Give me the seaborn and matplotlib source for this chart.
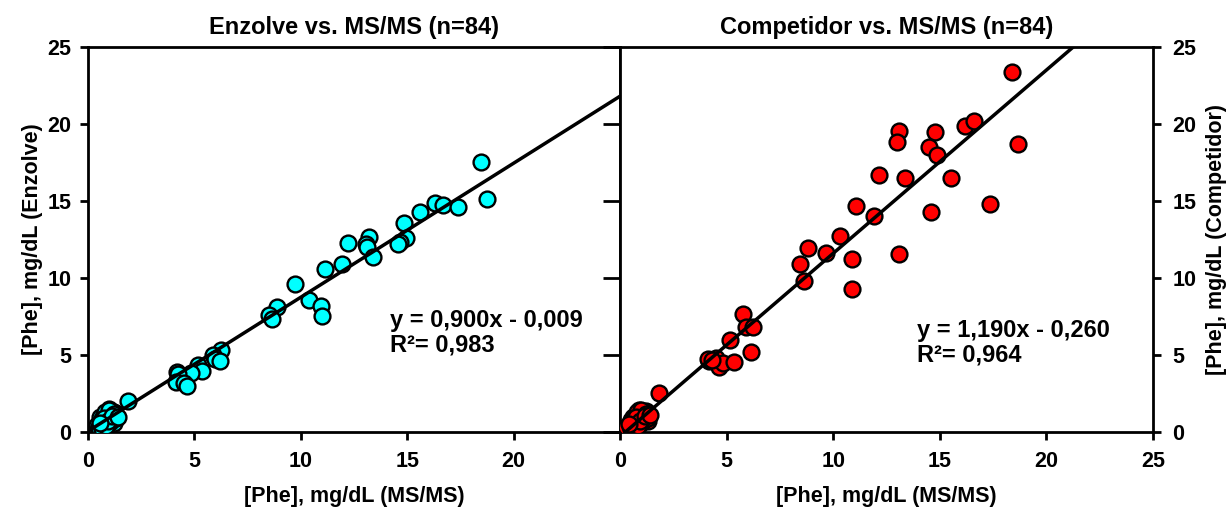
import numpy as np
import pandas as pd
import matplotlib
matplotlib.use("Agg")
import matplotlib.pyplot as plt
import seaborn as sns

# MS/MS reference vs Enzolve
enz_x = [18.48, 18.76, 16.29, 16.68, 17.4, 15.59, 14.85, 14.96, 14.65, 14.58,
         13.2, 13.05, 13.11, 13.4, 12.24, 11.95, 11.14, 9.72, 10.37, 10.97,
         11.0, 8.87, 8.5, 8.67, 6.24, 5.87, 5.96, 6.2, 5.18, 5.38,
         4.84, 4.18, 4.23, 4.13, 4.51, 4.66, 1.89,
         0.97, 1.2, 0.66, 1.2, 0.58, 0.81, 0.42, 0.5, 0.6, 0.7,
         0.8, 0.9, 1.0, 1.1, 1.3, 0.55, 0.65, 0.75, 0.85, 0.95,
         1.05, 1.15, 1.25, 0.6, 0.7, 0.8, 0.9, 1.0, 1.1, 1.2,
         0.5, 0.7, 0.9, 1.1, 1.3, 0.6, 0.8, 1.0, 1.2, 0.65,
         0.85, 1.05, 0.75, 0.95, 1.15, 0.55, 1.4]
enz_y = [17.55, 15.1, 14.9, 14.74, 14.59, 14.3, 13.55, 12.58, 12.36, 12.19,
         12.64, 12.2, 12.03, 11.36, 12.3, 10.93, 10.56, 9.63, 8.55, 8.2,
         7.55, 8.12, 7.6, 7.36, 5.35, 5.02, 4.76, 4.63, 4.35, 3.98,
         3.85, 3.9, 3.79, 3.25, 3.2, 2.99, 2.01,
         1.47, 1.32, 0.78, 0.56, 1.0, 1.1, 0.45, 0.3, 0.5, 0.6,
         0.7, 0.8, 0.95, 1.05, 1.1, 0.4, 0.85, 0.55, 0.65, 1.2,
         0.75, 0.9, 1.25, 0.35, 0.95, 1.0, 0.5, 0.6, 0.8, 1.0,
         0.25, 0.45, 1.15, 0.7, 0.9, 0.65, 1.3, 1.4, 1.2, 0.2,
         0.4, 0.85, 0.9, 0.7, 1.05, 0.6, 1.0]

# MS/MS reference vs competitor
comp_x = [18.39, 18.69, 16.17, 16.59, 13.08, 12.99, 14.77, 14.49, 14.87, 12.17,
          13.37, 15.52, 17.34, 14.6, 11.08, 11.89, 10.33, 9.67, 10.89, 13.1,
          10.88, 8.62, 8.45, 8.83, 5.77, 5.9, 6.24, 5.15, 6.15, 4.18,
          4.51, 4.12, 4.62, 4.85, 5.35, 4.3, 1.85,
          0.9, 1.2, 0.5, 1.3, 0.6, 0.8, 0.3, 0.5, 0.6, 0.7,
          0.8, 0.9, 1.0, 1.1, 1.3, 0.55, 0.65, 0.75, 0.85, 0.95,
          1.05, 1.15, 1.25, 0.6, 0.7, 0.8, 0.9, 1.0, 1.1, 1.2,
          0.5, 0.7, 0.9, 1.1, 1.3, 0.6, 0.8, 1.0, 1.2, 0.65,
          0.85, 1.05, 0.75, 0.95, 1.15, 0.4, 1.4]
comp_y = [23.38, 18.7, 19.87, 20.19, 19.57, 18.85, 19.46, 18.49, 17.99, 16.71,
          16.47, 16.49, 14.8, 14.26, 14.7, 14.05, 12.75, 11.65, 11.21, 11.58,
          9.26, 9.78, 10.89, 11.97, 7.64, 6.8, 6.84, 5.95, 5.19, 4.6,
          4.83, 4.72, 4.24, 4.5, 4.52, 4.65, 2.51,
          1.4, 1.35, 0.8, 0.7, 1.0, 1.2, 0.3, 0.2, 0.5, 0.6,
          0.7, 0.9, 1.0, 1.1, 1.0, 0.4, 0.85, 0.55, 0.65, 1.2,
          0.75, 0.9, 1.3, 0.35, 0.95, 1.1, 0.5, 0.6, 0.8, 1.05,
          0.25, 0.45, 1.25, 0.7, 0.9, 0.65, 1.3, 1.45, 1.15, 0.3,
          0.4, 0.85, 1.0, 0.7, 1.05, 0.5, 1.1]

# trend lines as drawn in the picture (slope, intercept)
enz_line = (0.87, 0.05)
comp_line = (1.19, -0.30)
enz_eq = ["y = 0,900x - 0,009", "R\u00b2= 0,983"]
comp_eq = ["y = 1,190x - 0,260", "R\u00b2= 0,964"]

sns.set_style("ticks")
plt.rcParams["font.family"] = ["Liberation Sans", "DejaVu Sans"]
plt.rcParams["font.weight"] = "bold"
plt.rcParams["text.color"] = "black"
plt.rcParams["axes.labelcolor"] = "black"
plt.rcParams["xtick.color"] = "black"
plt.rcParams["ytick.color"] = "black"
plt.rcParams["axes.edgecolor"] = "black"

fig = plt.figure(figsize=(12.27, 5.08), dpi=100)
ax1 = fig.add_axes([0.0717, 0.1496, 0.4336, 0.758])
ax2 = fig.add_axes([0.5053, 0.1496, 0.4344, 0.758])

df1 = pd.DataFrame({"x": enz_x, "y": enz_y})
df2 = pd.DataFrame({"x": comp_x, "y": comp_y})

panels = [
    (ax1, df1, "#00FFFF", enz_line, enz_eq, "Enzolve vs. MS/MS (n=84)",
     "[Phe], mg/dL (Enzolve)", (14.2, 6.8)),
    (ax2, df2, "#FF0000", comp_line, comp_eq, "Competidor vs. MS/MS (n=84)",
     "[Phe], mg/dL (Competidor)", (13.95, 6.2)),
]

for ax, df, col, fit, eq, title, ylab, txt in panels:
    sns.scatterplot(data=df, x="x", y="y", ax=ax, color=col, s=130,
                    edgecolor="black", linewidth=1.7, zorder=3)
    xs = np.array([0, 25])
    ax.plot(xs, fit[0] * xs + fit[1], color="black", lw=2.5, zorder=4)
    ax.set_xlim(0, 25)
    ax.set_ylim(0, 25)
    ax.set_title(title, fontsize=17, fontweight="bold", pad=9)
    ax.set_xlabel("[Phe], mg/dL (MS/MS)", fontsize=15.5, fontweight="bold", labelpad=9.5)
    ax.set_ylabel(ylab, fontsize=15.5, fontweight="bold")
    ax.text(txt[0], txt[1], eq[0], fontsize=17, fontweight="bold")
    ax.text(txt[0], txt[1] - 1.6, eq[1], fontsize=17, fontweight="bold")
    for s in ax.spines.values():
        s.set_visible(True)
        s.set_linewidth(2)
    ax.tick_params(width=2, length=6, labelsize=15.5, pad=8)

ax1.set_xticks([0, 5, 10, 15, 20])
ax1.set_yticks([0, 5, 10, 15, 20, 25])
ax1.tick_params(axis="y", left=True, right=False, pad=6)
ax1.yaxis.labelpad = 3

ax2.set_xticks([0, 5, 10, 15, 20, 25])
ax2.set_yticks([0, 5, 10, 15, 20, 25])
ax2.yaxis.tick_right()
ax2.tick_params(axis="y", right=True, left=True, labelleft=False, labelright=True)
ax2.yaxis.set_label_position("right")
ax2.set_ylabel("[Phe], mg/dL (Competidor)", fontsize=15.5, fontweight="bold",
               rotation=90, labelpad=7)
for t in ax2.yaxis.get_major_ticks():
    t.tick1line.set_marker(matplotlib.lines.TICKLEFT)
    t.tick1line.set_markersize(12)

for t in ax1.get_xticklabels() + ax1.get_yticklabels() + ax2.get_xticklabels() + ax2.get_yticklabels():
    t.set_fontweight("bold")

fig.savefig("out.png", dpi=100)
